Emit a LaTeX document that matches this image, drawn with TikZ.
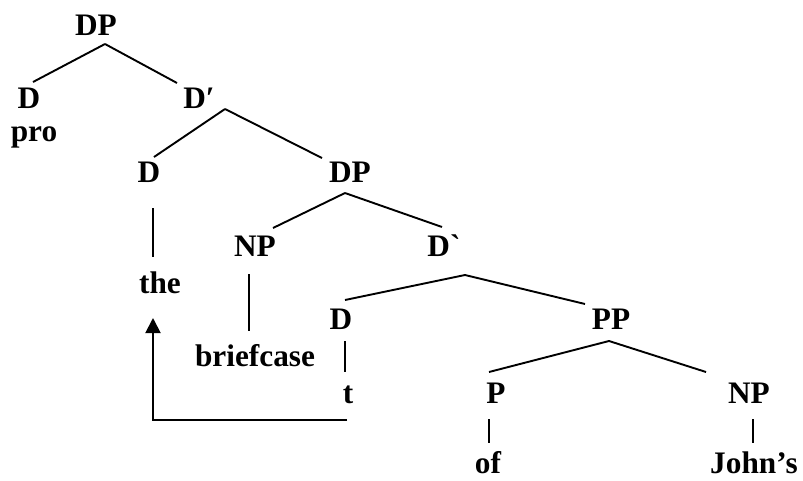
\documentclass[tikz,border=0pt]{standalone}
\usepackage{fontspec}
\setmainfont{Liberation Serif}[Ligatures=TeXOff]
\usetikzlibrary{calc,arrows.meta}
\begin{document}
\begin{tikzpicture}[x=1pt,y=-1pt,line width=1.9pt,
    every node/.style={anchor=base,inner sep=0pt,font=\bfseries\fontsize{31.3}{36}\selectfont}]
      \useasboundingbox (0,0) rectangle (803,480);
      \draw
        (96,35) node (dpA){DP}
        (29,108) node (dA){D}
        (199,108) node (dbarA){D′}
        (34,141) node (pro){pro}
        (149,182) node (dB){D}
        (350,182) node (dpB){DP}
        (160,293) node (the){the}
        (255,256) node (npA){NP}
        (444,256) node (dbarB){D`}
        (255,366) node (brief){briefcase}
        (341,329) node (dC){D}
        (611,329) node (ppA){PP}
        (348,403) node (t){t}
        (496,403) node (pA){P}
        (749,403) node (npB){NP}
        (488,473) node (of){of}
        (754,473) node (john){John’s};
      \begin{scope}[-]
        \draw ($(dpA.base)+(9,9)$) to ($(dA.base)+(4,-26)$);
        \draw ($(dpA.base)+(9,9)$) to ($(dbarA.base)+(-22,-25)$);
        \draw ($(dbarA.base)+(26,1)$) to ($(dB.base)+(5,-25)$);
        \draw ($(dbarA.base)+(26,1)$) to ($(dpB.base)+(-28,-24)$);
        \draw ($(dpB.base)+(-5,11)$) to ($(npA.base)+(18,-28)$);
        \draw ($(dpB.base)+(-5,11)$) to ($(dbarB.base)+(-2,-29)$);
        \draw ($(dB.base)+(4,26)$) to ($(the.base)+(-7,-36)$);
        \draw ($(npA.base)+(-6,18)$) to ($(brief.base)+(-6,-35)$);
        \draw ($(dbarB.base)+(21,19)$) to ($(dC.base)+(4,-29)$);
        \draw ($(dbarB.base)+(21,19)$) to ($(ppA.base)+(-26,-25)$);
        \draw ($(dC.base)+(4,12)$) to ($(t.base)+(-3,-31)$);
        \draw ($(ppA.base)+(-2,12)$) to ($(pA.base)+(-7,-31)$);
        \draw ($(ppA.base)+(-2,12)$) to ($(npB.base)+(-43,-31)$);
        \draw ($(pA.base)+(-7,16)$) to ($(of.base)+(1,-30)$);
        \draw ($(npB.base)+(4,16)$) to ($(john.base)+(-1,-30)$);
      \end{scope}
      \draw[-{Triangle[length=15pt,width=15pt]}]
        ($(t.base)+(-1,17)$) -| ($(the.base)+(-7,25)$);
    \end{tikzpicture}
\end{document}
